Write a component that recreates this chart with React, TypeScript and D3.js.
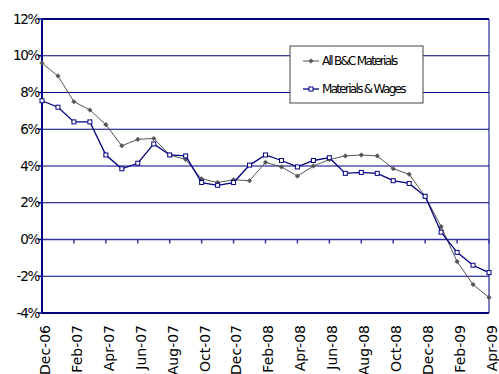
import { scaleLinear, line } from "d3";

const months = [
  "Dec-06", "Jan-07", "Feb-07", "Mar-07", "Apr-07", "May-07", "Jun-07", "Jul-07",
  "Aug-07", "Sep-07", "Oct-07", "Nov-07", "Dec-07", "Jan-08", "Feb-08", "Mar-08",
  "Apr-08", "May-08", "Jun-08", "Jul-08", "Aug-08", "Sep-08", "Oct-08", "Nov-08",
  "Dec-08", "Jan-09", "Feb-09", "Mar-09", "Apr-09",
];
const allMaterials = [
  9.6, 8.9, 7.5, 7.05, 6.25, 5.1, 5.45, 5.5, 4.6, 4.35, 3.3, 3.1, 3.25, 3.2, 4.2,
  3.95, 3.45, 4.0, 4.35, 4.55, 4.6, 4.55, 3.85, 3.55, 2.35, 0.7, -1.2, -2.45, -3.15,
];
const materialsWages = [
  7.55, 7.2, 6.4, 6.4, 4.6, 3.85, 4.15, 5.2, 4.6, 4.55, 3.1, 2.95, 3.1, 4.05, 4.6,
  4.3, 3.95, 4.3, 4.45, 3.6, 3.65, 3.6, 3.2, 3.05, 2.35, 0.4, -0.7, -1.4, -1.8,
];
const yTicks = [-4, -2, 0, 2, 4, 6, 8, 10, 12];
const seriesNames = ["All B&C Materials", "Materials & Wages"];

const W = 499;
const H = 374;
const left = 42;
const right = 489;
const top = 19;
const bottom = 313;
const navy = "#000080";
const grayLine = "#555555";
const font = "'DejaVu Sans', sans-serif";

export default function App() {
  const x = scaleLinear().domain([0, months.length - 1]).range([left, right]);
  const y = scaleLinear().domain([-4, 12]).range([bottom, top]);
  const path = line<number>()
    .x((_, i) => x(i))
    .y((d) => y(d));

  const diamond = (cx: number, cy: number, r: number) =>
    `M${cx},${cy - r}L${cx + r},${cy}L${cx},${cy + r}L${cx - r},${cy}Z`;

  const legX = 290;
  const legY = 46;

  return (
    <svg
      width={W}
      height={H}
      style={{ position: "absolute", left: 0, top: 0, background: "#fff" }}
    >
      {/* gridlines */}
      {yTicks
        .filter((t) => t !== -4 && t !== 12 && t !== 0)
        .map((t) => (
          <line key={t} x1={left} x2={right} y1={y(t)} y2={y(t)} stroke={navy} strokeWidth={1} />
        ))}
      {/* plot frame */}
      <line x1={left} x2={right} y1={y(12)} y2={y(12)} stroke={navy} strokeWidth={2} />
      <line x1={right} x2={right} y1={y(12)} y2={y(-4)} stroke={navy} strokeWidth={1} />
      <line x1={left} x2={right} y1={y(-4)} y2={y(-4)} stroke={navy} strokeWidth={2} />
      {/* x axis at 0% */}
      <line x1={left} x2={right} y1={y(0)} y2={y(0)} stroke="#3333a0" strokeWidth={1.5} />
      {months.map((m, i) =>
        i % 2 === 0 ? (
          <line key={m} x1={x(i)} x2={x(i)} y1={y(0)} y2={y(0) + 4} stroke="#3333a0" strokeWidth={1.5} />
        ) : null
      )}
      {/* y axis */}
      <line x1={left} x2={left} y1={y(12)} y2={y(-4)} stroke={navy} strokeWidth={2} />
      {yTicks.map((t) => (
        <g key={t}>
          <line x1={left - 4} x2={left} y1={y(t)} y2={y(t)} stroke={navy} strokeWidth={1.5} />
          <text
            x={left - 3}
            y={y(t)}
            dy="0.35em"
            textAnchor="end"
            fontFamily={font}
            fontSize={13.5}
            letterSpacing={-1.3}
            fill="#000"
          >
            {t}%
          </text>
        </g>
      ))}
      {/* x labels */}
      {months.map((m, i) =>
        i % 2 === 0 ? (
          <text
            key={m}
            transform={`translate(${x(i) + 3},${bottom + 12}) rotate(-90)`}
            dy="0.35em"
            textAnchor="end"
            fontFamily={font}
            fontSize={14}
            letterSpacing={0}
            fill="#000"
          >
            {m}
          </text>
        ) : null
      )}
      {/* series */}
      <path d={path(allMaterials) || ""} fill="none" stroke={grayLine} strokeWidth={1} />
      {allMaterials.map((v, i) => (
        <path key={i} d={diamond(x(i), y(v), 2.3)} fill={grayLine} stroke={grayLine} strokeWidth={0.5} />
      ))}
      <path d={path(materialsWages) || ""} fill="none" stroke={navy} strokeWidth={1.3} />
      {materialsWages.map((v, i) => (
        <rect key={i} x={x(i) - 2} y={y(v) - 2} width={4} height={4} fill="#fff" stroke={navy} strokeWidth={1} />
      ))}
      {/* legend */}
      <rect x={legX} y={legY} width={133} height={57} fill="#fff" stroke="#444" strokeWidth={1} />
      <line x1={legX + 13} x2={legX + 29} y1={legY + 15} y2={legY + 15} stroke={grayLine} strokeWidth={1} />
      <path d={diamond(legX + 21, legY + 15, 2.3)} fill={grayLine} stroke={grayLine} strokeWidth={0.5} />
      <line x1={legX + 13} x2={legX + 29} y1={legY + 43} y2={legY + 43} stroke={navy} strokeWidth={1.3} />
      <rect x={legX + 19} y={legY + 41} width={4} height={4} fill="#fff" stroke={navy} strokeWidth={1} />
      {seriesNames.map((s, i) => (
        <text
          key={s}
          x={legX + 32}
          y={legY + 15 + i * 28}
          dy="0.35em"
          fontFamily={font}
          fontSize={12}
          letterSpacing={-1.7}
          fill="#000"
        >
          {s}
        </text>
      ))}
    </svg>
  );
}
